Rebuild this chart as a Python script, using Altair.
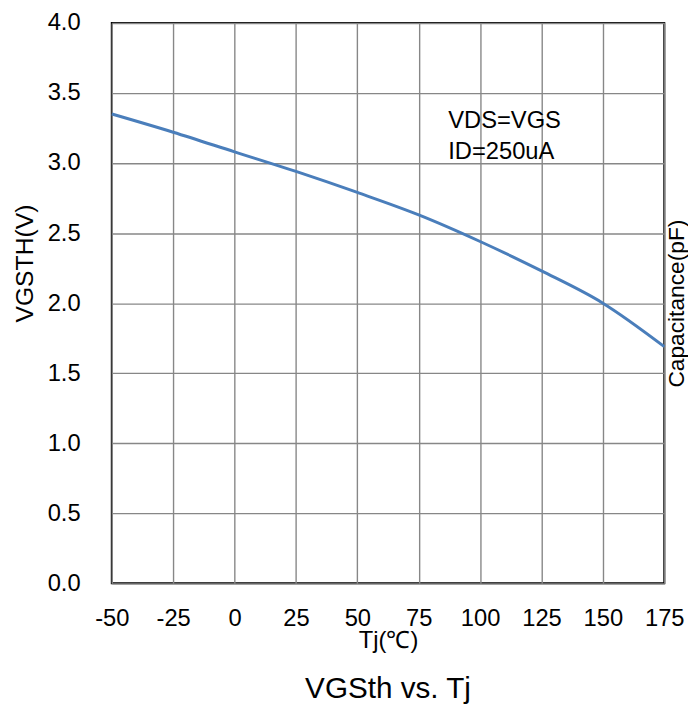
import altair as alt
import pandas as pd

# data
tj = [-50, -25, 0, 25, 50, 75, 100, 125, 150, 175]
vgsth = [3.35, 3.22, 3.08, 2.94, 2.79, 2.63, 2.44, 2.23, 2.00, 1.69]

note_lines = ["VDS=VGS", "ID=250uA"]
note_x = [87, 87]
note_y = [3.25, 3.03]

x_ticks = [-50, -25, 0, 25, 50, 75, 100, 125, 150, 175]
y_ticks = [0.0, 0.5, 1.0, 1.5, 2.0, 2.5, 3.0, 3.5, 4.0]

df = pd.DataFrame({"Tj": tj, "V": vgsth})
notes = pd.DataFrame({"Tj": note_x, "V": note_y, "t": note_lines})

FONT = "Liberation Sans"

xscale = alt.Scale(domain=[-50, 175], nice=False, zero=False)
yscale = alt.Scale(domain=[0, 4], nice=False, zero=False)

line = alt.Chart(df).mark_line(
    color="#4a7ebb", strokeWidth=3, interpolate="monotone"
).encode(
    x=alt.X("Tj:Q", scale=xscale,
            axis=alt.Axis(values=x_ticks, title="Tj(℃)",
                          labelExpr="datum.value + ''",
                          labelFlush=False, labelOverlap=False,
                          labelPadding=24, titleBaseline="alphabetic",
                          titleY=65, titleFontSize=24, titleFontWeight="normal")),
    y=alt.Y("V:Q", scale=yscale,
            axis=alt.Axis(values=y_ticks, title="VGSTH(V)", format=".1f",
                          labelFlush=False, labelOverlap=False,
                          labelPadding=32, titleAngle=270,
                          titleBaseline="alphabetic", titleX=-80, titleY=243,
                          titleAlign="center", titleFontSize=25,
                          titleFontWeight="normal")),
)

text = alt.Chart(notes).mark_text(
    align="left", baseline="alphabetic", font=FONT, fontSize=24, color="black"
).encode(
    x=alt.X("Tj:Q", scale=xscale),
    y=alt.Y("V:Q", scale=yscale,
            axis=alt.Axis(orient="right", labels=False, ticks=False,
                          domain=False, grid=False, title="Capacitance(pF)",
                          titleAngle=270, titleBaseline="alphabetic",
                          titleX=19, titleAlign="center", titleFontSize=23,
                          titleFontWeight="normal")),
    text="t:N",
)

chart = alt.layer(line, text).resolve_axis(y="independent").properties(
    width=559,
    height=567,
    autosize=alt.AutoSizeParams(type="none"),
    padding={"left": 105, "top": 11, "right": 24, "bottom": 122},
    title=alt.TitleParams("VGSth vs. Tj", orient="bottom", anchor="middle",
                          fontSize=30, fontWeight="normal", font=FONT,
                          color="black", offset=22),
).configure_view(
    stroke="black", strokeWidth=2
).configure_axis(
    labelFont=FONT, titleFont=FONT, labelFontSize=24, labelColor="black",
    titleColor="black", ticks=False, domain=False, gridColor="#878787",
    gridWidth=1.4, gridOpacity=1
).configure_axisX(
    grid=True
).configure_axisY(
    grid=True
)

chart.save("out.html", embed_options={"renderer": "svg", "actions": False})
